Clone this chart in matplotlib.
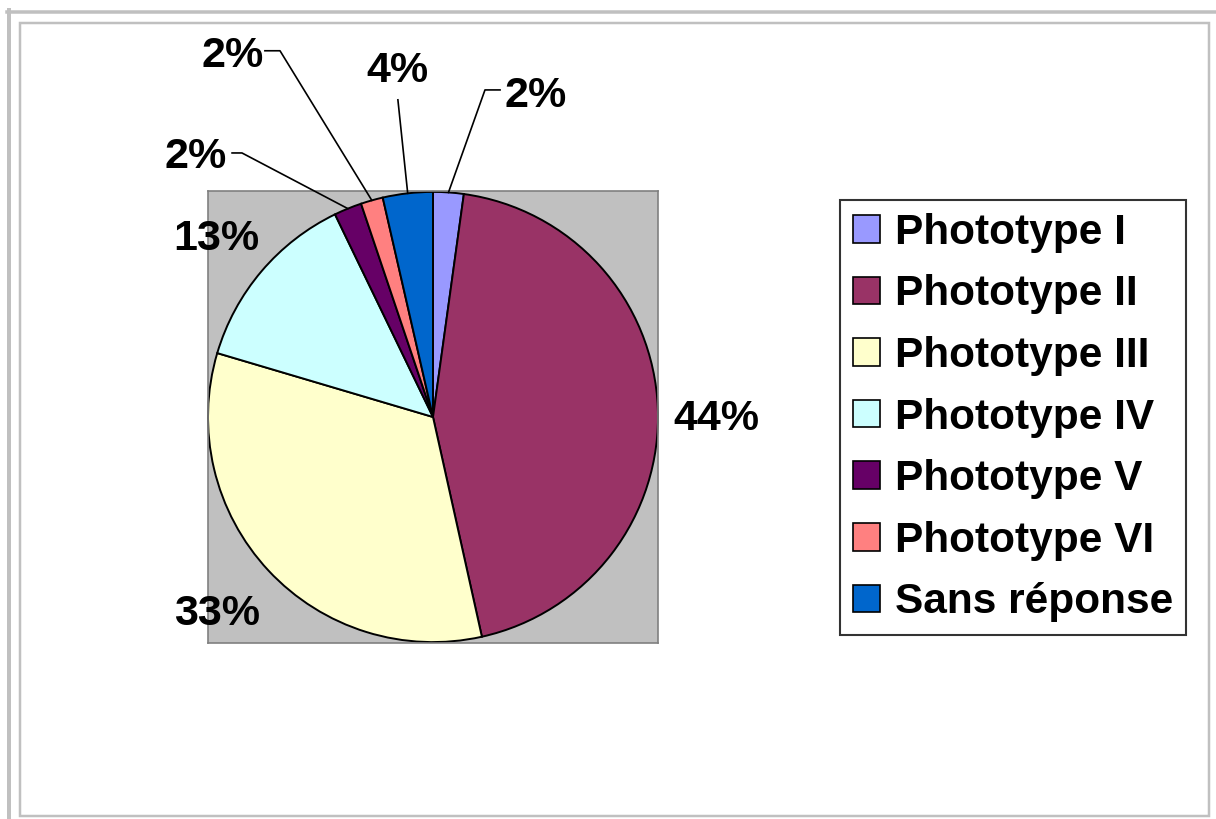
import matplotlib
matplotlib.use("Agg")
import matplotlib.pyplot as plt
from matplotlib.patches import Rectangle
from matplotlib.lines import Line2D
import numpy as np

categories = ["Phototype I", "Phototype II", "Phototype III", "Phototype IV",
              "Phototype V", "Phototype VI", "Sans réponse"]
values = [2.2, 44.5, 33.2, 13.3, 2.0, 1.6, 3.6]
colors = ["#9999FF", "#993366", "#FFFFCC", "#CCFFFF", "#660066", "#FF8080", "#0066CC"]

W, H = 1216, 819
plt.rcParams['font.family'] = ['Liberation Sans', 'DejaVu Sans']
fig = plt.figure(figsize=(W / 100, H / 100), dpi=100)

def fx(x):
    return x / W

def fy(y):
    return 1 - y / H

# decorative frame
gray = "#C0C0C0"
fig.add_artist(Line2D([fx(7), fx(1216)], [fy(11.5), fy(11.5)], color=gray, lw=3.5 * 0.72))
fig.add_artist(Line2D([fx(9), fx(9)], [fy(10), fy(819)], color=gray, lw=4 * 0.72))
fig.add_artist(Rectangle((fx(20), fy(815.5)), fx(1208.5) - fx(20), fy(23) - fy(815.5),
                         fill=False, edgecolor=gray, lw=2.5 * 0.72))

# plot area
L, R, T, B = 208, 658, 191, 643
ax = fig.add_axes([fx(L), fy(B), fx(R) - fx(L), fy(T) - fy(B)])
ax.set_facecolor("#C0C0C0")

wedges, _ = ax.pie(values, colors=colors, startangle=90, counterclock=False,
                   radius=1.0, frame=True,
                   wedgeprops=dict(edgecolor="black", linewidth=1.4))
ax.set_xlim(-1, 1)
ax.set_ylim(-1.004, 1.004)
ax.set_aspect('auto')
ax.set_xticks([])
ax.set_yticks([])
for s in ax.spines.values():
    s.set_color("#808080")
    s.set_linewidth(1.2)

total = sum(values)
labels = [f"{np.round(v / total * 100):.0f}%" for v in values]

# layout: label anchor (x, baseline y) and leader polyline points (data coords)
label_pos = [(0.458, 1.378), (1.258, -0.058), (-0.962, -0.924), (-0.962, 0.742),
             (-1.053, 1.107), (-0.891, 1.556), (-0.158, 1.489)]
leaders = [[(0.231, 1.453), (0.298, 1.453)],
           None, None, None,
           [(-0.849, 1.173), (-0.893, 1.173)],
           [(-0.680, 1.627), (-0.747, 1.627)],
           [(-0.156, 1.409)]]

for w, lab, pos, lead in zip(wedges, labels, label_pos, leaders):
    ax.text(pos[0], pos[1], lab, ha="center", va="baseline", fontsize=31,
            fontweight="bold", clip_on=False, zorder=5)
    if lead:
        th = np.deg2rad((w.theta1 + w.theta2) / 2)
        xs = [np.cos(th)] + [p[0] for p in lead]
        ys = [np.sin(th)] + [p[1] for p in lead]
        ax.plot(xs, ys, color="black", lw=1.2, clip_on=False, zorder=4)

leg = fig.legend(wedges, categories, loc="upper left",
                 bbox_to_anchor=(fx(840), fy(200)),
                 prop=dict(size=30.5, weight="bold"),
                 frameon=True, fancybox=False, shadow=False,
                 handlelength=0.65, handleheight=0.62, handletextpad=0.35,
                 labelspacing=0.51, borderpad=0.3, borderaxespad=0.0)
leg.get_frame().set_edgecolor("black")
leg.get_frame().set_linewidth(1.5)
for h in leg.legend_handles:
    h.set_linewidth(1.2)

fig.savefig("out.png", dpi=100)
